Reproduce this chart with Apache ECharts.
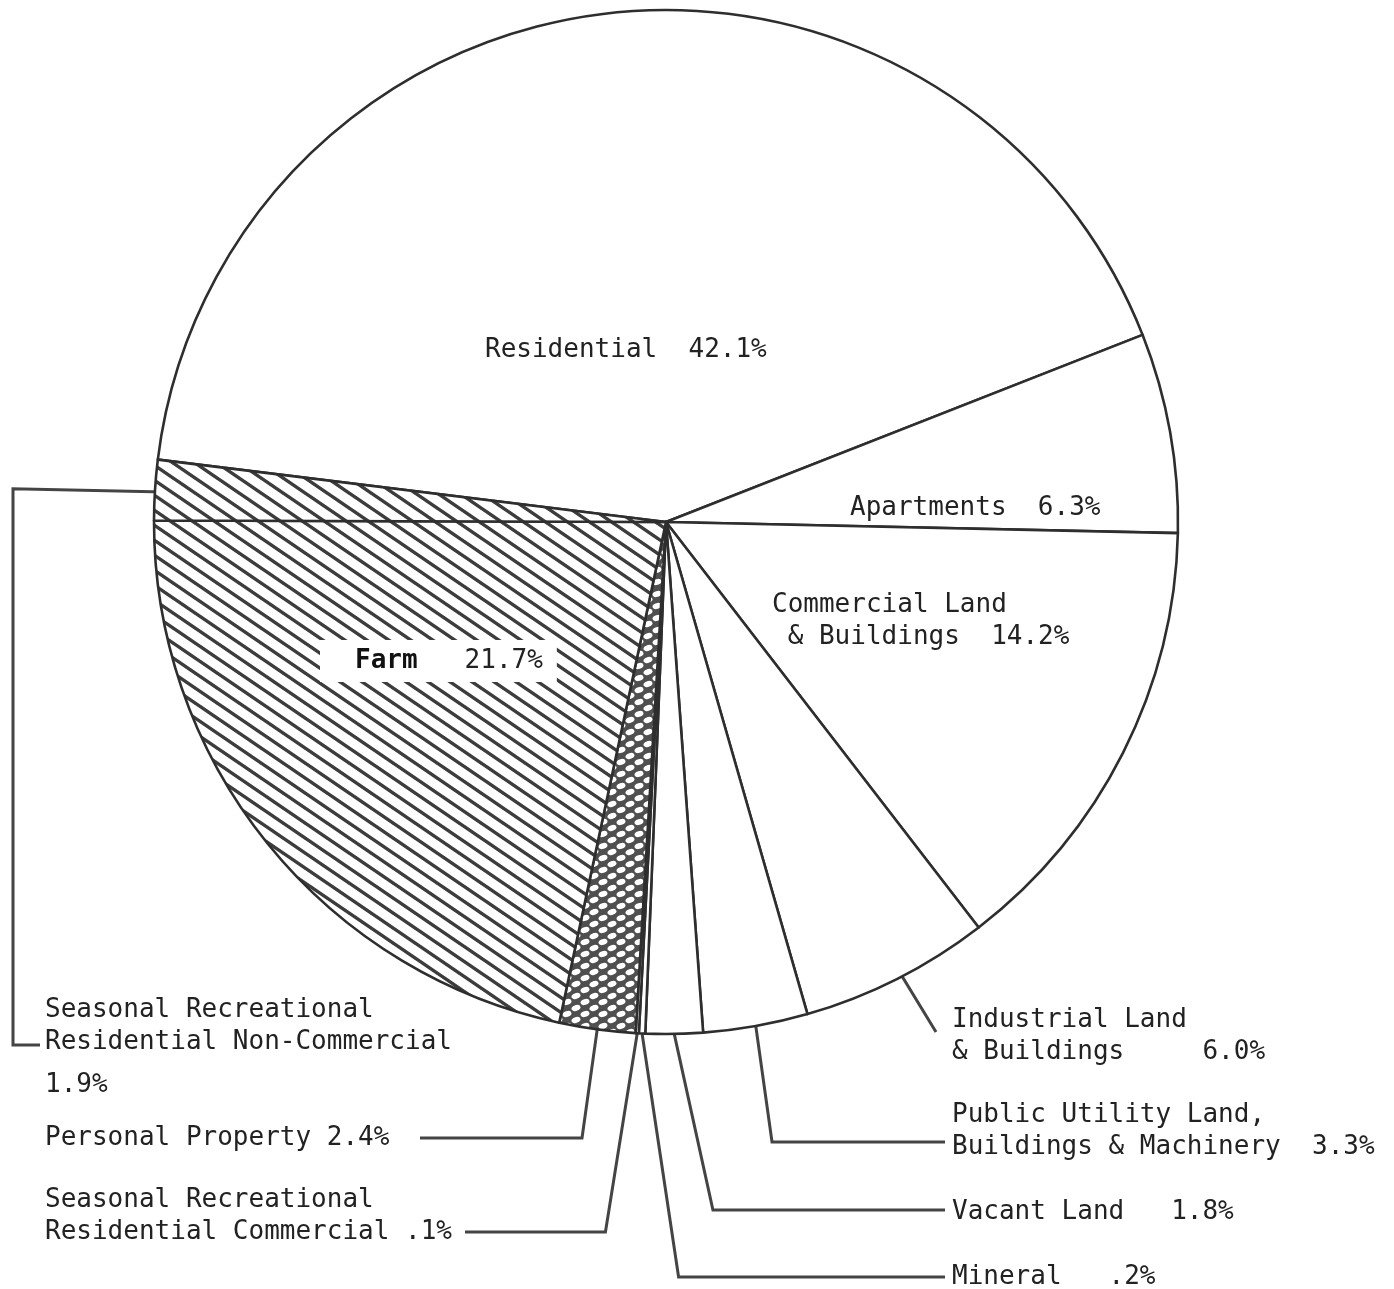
<!DOCTYPE html>
<html><head><meta charset="utf-8">
<script src="https://cdn.jsdelivr.net/npm/echarts@6/dist/echarts.min.js"></script>
<style>html,body{margin:0;padding:0;background:#fff}#c{width:1394px;height:1289px}</style>
</head><body><div id="c"></div>
<script>
// ---- data ----
const categories = [
  'Residential',
  'Apartments',
  'Commercial Land\n & Buildings',
  'Industrial Land\n& Buildings',
  'Public Utility Land,\nBuildings & Machinery',
  'Vacant Land',
  'Mineral',
  'Seasonal Recreational\nResidential Commercial',
  'Personal Property',
  'Farm',
  'Seasonal Recreational\nResidential Non-Commercial'
];
const values = [42.1, 6.3, 14.2, 6.0, 3.3, 1.8, 0.2, 0.1, 2.4, 21.7, 1.9];

// ---- layout / style ----
const gaps = ['  ', '  ', '  ', '     ', '  ', '   ', '   ', ' ', ' ', '   ', '\n'];
const fillKind = ['w','w','w','w','w','w','w','w','x','h','h'];
const CX = 666, CY = 522, R = 512;
const place = [
  {x:485, y:334, inside:true},
  {x:850, y:492, inside:true},
  {x:772, y:589, inside:true},
  {x:952, y:1004, kind:'diag', inset:70, end:[-16, 28]},
  {x:952, y:1099, kind:'elbow', lineY:1142, slope:0.14, endX:945},
  {x:952, y:1196, kind:'elbow', lineY:1210, slope:0.22, endX:945},
  {x:952, y:1261, kind:'elbow', lineY:1277, slope:0.15, endX:945},
  {x:45, y:1184, kind:'elbow', lineY:1232, slope:-0.16, endX:465},
  {x:45, y:1122, kind:'elbow', lineY:1138, slope:-0.14, endX:420},
  {x:320, y:640, inside:true},
  {x:45, y:994, kind:'box', inset:45, leftX:13, lineY:1045, endX:40}
];

function fmt(v){ return (v < 1 ? v.toFixed(1).replace(/^0/, '') : v.toFixed(1)) + '%'; }

function hatch(){
  const W=22,H=15,c=document.createElement('canvas');c.width=W;c.height=H;
  const g=c.getContext('2d');g.fillStyle='#fff';g.fillRect(0,0,W,H);
  g.strokeStyle='#3c3c3c';g.lineWidth=3.4;
  for(const o of [-W,0,W]){g.beginPath();g.moveTo(o-2,-2*H/W);g.lineTo(o+W+2,H+2*H/W);g.stroke();}
  return c;
}
function cross(){
  const W=18,H=12,c=document.createElement('canvas');c.width=W;c.height=H;
  const g=c.getContext('2d');g.fillStyle='#4f4f4f';g.fillRect(0,0,W,H);
  g.fillStyle='#fff';
  for(const [x,y] of [[W/2,H/2],[0,0],[W,0],[0,H],[W,H]]){
    g.beginPath();g.ellipse(x,y,4.6,2.8,-0.3,0,Math.PI*2);g.fill();
  }
  return c;
}
const hatchPat = {image: hatch(), repeat:'repeat'};
const crossPat = {image: cross(), repeat:'repeat'};

const FONT = "'DejaVu Sans Mono', 'Liberation Mono', monospace";

const data = categories.map((n,i)=>{
  const p = place[i];
  const item = {
    name: n, value: values[i],
    itemStyle: {color: fillKind[i]==='h' ? hatchPat : fillKind[i]==='x' ? crossPat : '#fff'},
    label: {position: p.inside ? 'inside' : 'outside'},
    labelLine: {show: !p.inside}
  };
  if (n === 'Farm') {
    item.label.backgroundColor = '#fff';
    item.label.padding = [5, 14, 5, 35];
  }
  return item;
});

const chart = echarts.init(document.getElementById('c'), null, {renderer:'canvas'});
chart.setOption({
  backgroundColor:'#fff',
  animation:false,
  series:[{
    type:'pie',
    center:[CX, CY],
    radius:R,
    startAngle:173,
    clockwise:true,
    avoidLabelOverlap:false,
    silent:true,
    data:data,
    itemStyle:{borderColor:'#2e2e2e', borderWidth:2.6},
    label:{
      show:true,
      fontFamily:FONT, fontSize:26, color:'#222', lineHeight:32,
      align:'left',
      formatter:function(p){
        const i = p.dataIndex, v = fmt(values[i]);
        if (categories[i] === 'Farm') return '{b|Farm}' + gaps[i] + v;
        if (gaps[i] === '\n') return categories[i] + '\n{p|' + v + '}';
        return categories[i] + gaps[i] + v;
      },
      rich:{
        b:{fontFamily:FONT, fontSize:26, fontWeight:'bold', color:'#111', lineHeight:32},
        p:{fontFamily:FONT, fontSize:26, color:'#222', lineHeight:54}
      }
    },
    labelLine:{show:true, smooth:false, length:10, length2:10, lineStyle:{color:'#444', width:3}},
    labelLayout:function(params){
      const i = params.dataIndex, p = place[i];
      const out = {x:p.x, y:p.y, align:'left', verticalAlign:'top'};
      const lp = params.labelLinePoints;
      if (!p.inside && lp) {
        const a = lp[0];
        const dx = a[0]-CX, dy = a[1]-CY, d = Math.sqrt(dx*dx+dy*dy);
        const ux = dx/d, uy = dy/d;
        if (p.kind === 'diag') {
          out.labelLinePoints = [[a[0]-ux*p.inset, a[1]-uy*p.inset], [p.x+p.end[0], p.y+p.end[1]]];
        } else if (p.kind === 'elbow') {
          const ex = a[0] + p.slope*(p.lineY - a[1]);
          out.labelLinePoints = [[a[0], a[1]], [ex, p.lineY], [p.endX, p.lineY]];
        } else if (p.kind === 'box') {
          const s = [a[0]-ux*p.inset, a[1]-uy*p.inset];
          out.labelLinePoints = [s, [p.leftX, s[1]-4], [p.leftX, p.lineY], [p.endX, p.lineY]];
        }
      }
      return out;
    }
  }]
});
</script>
</body></html>
